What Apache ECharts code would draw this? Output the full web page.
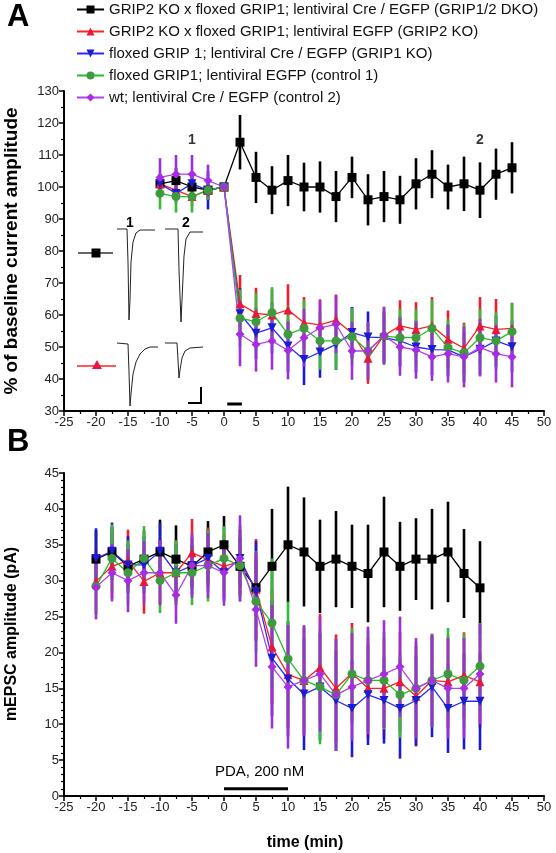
<!DOCTYPE html>
<html><head><meta charset="utf-8">
<script src="https://cdn.jsdelivr.net/npm/echarts@6/dist/echarts.min.js"></script>
<style>html,body{margin:0;padding:0;background:#fff}#c{width:556px;height:853px}</style>
</head><body><div id="c"></div>
<script>
// ---------- DATA ----------
const names = [
  'GRIP2 KO x floxed GRIP1; lentiviral Cre / EGFP (GRIP1/2 DKO)',
  'GRIP2 KO x floxed GRIP1; lentiviral EGFP (GRIP2 KO)',
  'floxed GRIP 1; lentiviral Cre / EGFP (GRIP1 KO)',
  'floxed GRIP1; lentiviral EGFP (control 1)',
  'wt; lentiviral Cre / EGFP (control 2)'
];
// Panel A: % of baseline current amplitude
const timeA = [-10,-7.5,-5,-2.5,0,2.5,5,7.5,10,12.5,15,17.5,20,22.5,25,27.5,30,32.5,35,37.5,40,42.5,45];
const dkoA    = [101,102,100,99,100,114,103,99,102,100,100,97,103,96,97,96,101,104,100,101,99,104,106];
const dkoAerr = [3,4,4,3,0,8.5,8,7.5,8,7.6,8,8,6.5,8,8,7.5,8,7.5,7,8.5,8.7,8,8];
const g2A     = [101,99,97,99,100,63.5,60.5,60,61.6,57.6,56.9,58.4,54.3,46.5,53.6,56.6,55.5,56.6,52.4,49.6,56.6,55.5,55.8];
const g2Aerr  = [3,3,3,3,0,9,8,8,8,8,8,8,8,8,8,8,8.5,9,9,8,9,9.5,8];
const g1A     = [101,98,101,99,100,60.4,54.3,56,50.3,46.1,48.4,50.8,54.5,53.1,52.9,51.9,50,49.2,49.1,46.9,49.3,51.9,50.1];
const g1Aerr  = [3,3,3,6,0,8,8,8,8,8,8,8,8,8,8,8,8,8,8,8,8,8,8];
const c1A     = [98,97,97,99,100,59,57.9,60.7,54,55.8,51.9,51.9,53.2,48.75,53.4,52.9,52.9,55.8,49.8,48.2,52.9,51.9,54.8];
const c1Aerr  = [5,5,5,3,0,9,9,8,9,9,9,9,9,9,9,9,9,9,9,9,9,9,9];
const c2A     = [103,104,104,102,100,54,50.8,51.9,48.9,52.9,56,57.1,48.75,48.75,53.6,50,49.1,46.9,47.9,46.9,49.8,47.9,46.9];
const c2Aerr  = [6,6,6,5,0,10,8.5,9,9,9,8.5,9,9,9,9,9,9,7.5,9,9.5,9,9,9.5];
const pdaBarA = [[0.5,32.2],[2.8,32.2]];
const marksA  = [[-5,114.5,'1'],[40,114.5,'2']];

// Panel B: mEPSC amplitude (pA)
const timeB = [-20,-17.5,-15,-12.5,-10,-7.5,-5,-2.5,0,2.5,5,7.5,10,12.5,15,17.5,20,22.5,25,27.5,30,32.5,35,37.5,40];
const dkoB    = [33,34,32,33,34,33,32,34,35,32,29,32,35,34,32,33,32,31,34,32,33,33,34,31,29];
const dkoBerr = [4,3.5,3,4,4.5,4.7,3,4.3,4,4,4,8,8.1,7.6,6.5,6.7,5.8,6.8,7.7,6.2,5.7,7,7,6.2,6.5];
const g2B     = [29.9,32,32.8,29.9,31.1,31.1,33.9,32.9,32,32.7,28.8,20.8,16.9,16.1,17.9,15,17.1,15,15,15.9,13.9,16.1,15.9,16.8,15.9];
const g2Berr  = [4.5,4.5,4.3,4.5,4.5,4.5,4.7,4.5,4.5,5,7,8,7.5,7.5,7.5,7.5,7,7,7,7,7,6.5,6.5,6,6.5];
const g1B     = [33.1,34.1,32.2,32.2,34.1,31.1,32.1,33.1,31.1,33.1,28.5,19.2,16.3,14.2,15.2,13.3,12.2,14.1,13.3,12.2,13.3,15.2,12.2,13.2,13.2];
const g1Berr  = [4.2,4,4,4,4,4,4,4,4,4,7,8,8,7.8,7.5,7,6.8,7,6,7,6.3,7,6.2,6.7,6.8];
const c1B     = [29.2,33.1,31.1,33.1,30,31.1,31.1,32.1,33.1,32.1,27.1,24.1,19.1,16.1,15.2,14.1,17,16.1,16.1,14.1,15,16.1,17,16.1,18.1];
const c1Berr  = [4,4.7,4.5,4.5,4.5,4.5,4.5,5,4.5,5,7,9,8,7.5,8,7.8,6.4,7,6.8,6,6.5,6.5,6.4,6.5,6];
const c2B     = [29.1,31.1,30,31.1,31.1,28,32.1,32.1,31.1,33.1,26,18,15.2,16.1,17,14.1,15.2,16.1,17,18,15,16.1,15,15,17];
const c2Berr  = [4.5,4,4.4,4.4,4.5,4,4.5,4.5,4.6,6,8,8.6,8.6,7.7,8,7.8,7.5,7.5,7.5,7,7,6.4,7,7,7];
const pdaBarB = [[0,1],[10,1]];

// ---------- STYLE ----------
const groups = [
  {name:names[0], line:'#000000', mark:'#000000', err:'#000000', symbol:'rect', size:9, rot:0},
  {name:names[1], line:'#ff2020', mark:'#e8173d', err:'#ee1c2c', symbol:'triangle', size:9, rot:0},
  {name:names[2], line:'#2a2aff', mark:'#1c1cd0', err:'#1a1ad0', symbol:'triangle', size:9, rot:180},
  {name:names[3], line:'#22c022', mark:'#3f9a3f', err:'#33bb33', symbol:'circle', size:9, rot:0},
  {name:names[4], line:'#b040f0', mark:'#a62ee0', err:'#9b30d8', symbol:'diamond', size:9, rot:0}
];
const panelA = [[dkoA,dkoAerr],[g2A,g2Aerr],[g1A,g1Aerr],[c1A,c1Aerr],[c2A,c2Aerr]];
const panelB = [[dkoB,dkoBerr],[g2B,g2Berr],[g1B,g1Berr],[c1B,c1Berr],[c2B,c2Berr]];

const font = 'Liberation Sans, Arial, sans-serif';
function axis(extra, minorSplit){
  return Object.assign({
    type:'value',
    axisLine:{onZero:false,lineStyle:{color:'#000',width:2}},
    axisTick:{show:true,length:5,lineStyle:{color:'#000',width:1.5}},
    minorTick:{show:true,splitNumber:minorSplit,length:3,lineStyle:{color:'#000',width:1.2}},
    axisLabel:{color:'#222',fontSize:13,fontFamily:font,margin:5},
    splitLine:{show:false}, minorSplitLine:{show:false}
  }, extra);
}

const series = [];
function addPanel(gi, xs, panel){
  panel.forEach((p,k)=>{
    const g = groups[k];
    series.push({
      type:'custom', name:g.name+' err', xAxisIndex:gi, yAxisIndex:gi, z:2,
      data: xs.map((x,i)=>[x,p[0][i],p[1][i]]),
      encode:{x:0,y:1},
      renderItem:(params,api)=>{
        const x=api.value(0), y=api.value(1), e=api.value(2);
        const a=api.coord([x,y-e]), b=api.coord([x,y+e]);
        return {type:'line',shape:{x1:a[0],y1:a[1],x2:b[0],y2:b[1]},style:{stroke:g.err,lineWidth:2.6}};
      }
    });
  });
  panel.forEach((p,k)=>{
    const g = groups[k];
    series.push({
      type:'line', name:g.name, xAxisIndex:gi, yAxisIndex:gi, z:3,
      data: xs.map((x,i)=>[x,p[0][i]]),
      symbol:g.symbol, symbolSize:g.size, symbolRotate:g.rot, showAllSymbol:true,
      lineStyle:{color:g.line,width:1.3}, itemStyle:{color:g.mark}
    });
  });
}
addPanel(0, timeA, panelA);
addPanel(1, timeB, panelB);
series.push({type:'line',name:'pdaA',xAxisIndex:0,yAxisIndex:0,data:pdaBarA,symbol:'none',lineStyle:{color:'#000',width:3},z:4});
series.push({type:'line',name:'pdaB',xAxisIndex:1,yAxisIndex:1,data:pdaBarB,symbol:'none',lineStyle:{color:'#000',width:3},z:4});
series.push({type:'scatter',name:'marks',xAxisIndex:0,yAxisIndex:0,data:marksA,symbolSize:0,
  label:{show:true,position:'inside',formatter:p=>p.value[2],fontSize:14,fontWeight:'bold',color:'#000',fontFamily:font}});

// inset sample traces (decoration)
const tr = (pts)=>({type:'polyline',shape:{points:pts},style:{stroke:'#222',lineWidth:1,fill:null},z:10});
const graphic = [
  {type:'text',left:7,top:2,style:{text:'A',font:'bold 31px '+font,fill:'#000'}},
  {type:'text',left:7,top:427,style:{text:'B',font:'bold 31px '+font,fill:'#000'}},
  {type:'text',x:12,y:251,rotation:Math.PI/2,style:{text:'% of baseline current amplitude',font:'bold 19px '+font,fill:'#000',align:'center',verticalAlign:'middle'}},
  {type:'text',x:12,y:634,rotation:Math.PI/2,style:{text:'mEPSC amplitude (pA)',font:'bold 16px '+font,fill:'#000',align:'center',verticalAlign:'middle'}},
  {type:'text',x:305,y:843,style:{text:'time (min)',font:'bold 16px '+font,fill:'#000',align:'center',verticalAlign:'middle'}},
  {type:'text',x:215,y:772,style:{text:'PDA, 200 nM',font:'15px '+font,fill:'#000',align:'left',verticalAlign:'middle'}},
  tr([[117,229],[127,229],[128,262],[129,320],[130,300],[131,262],[133,242],[136,233],[140,230],[155,230]]),
  tr([[165,229],[178,229],[179,270],[181,322],[182,300],[184,256],[186,239],[190,232],[203,232]]),
  tr([[117,343],[128,344],[129,372],[130,406],[131,394],[133,374],[136,362],[140,354],[145,349],[150,347],[158,347]]),
  tr([[165,343],[177,343],[178,360],[179,378],[180,370],[182,358],[185,351],[190,348],[203,347]]),
  {type:'polyline',shape:{points:[[188,403],[201,403],[201,387]]},style:{stroke:'#000',lineWidth:2,fill:null}},
  {type:'text',x:130,y:223,style:{text:'1',font:'bold 14px '+font,fill:'#000',align:'center',verticalAlign:'middle'}},
  {type:'text',x:186,y:223,style:{text:'2',font:'bold 14px '+font,fill:'#000',align:'center',verticalAlign:'middle'}},
  {type:'line',shape:{x1:78,y1:253,x2:113,y2:253},style:{stroke:'#333',lineWidth:1.3}},
  {type:'rect',shape:{x:91.5,y:248.5,width:9,height:9},style:{fill:'#000'}},
  {type:'line',shape:{x1:77,y1:366,x2:116,y2:366},style:{stroke:'#ff2020',lineWidth:1.3}},
  {type:'polygon',shape:{points:[[97,360],[102,369],[92,369]]},style:{fill:'#e8173d'}}
];

const option = {
  animation:false,
  backgroundColor:'#fff',
  legend:{data:names,orient:'vertical',left:76,top:2,padding:0,itemWidth:27,itemHeight:10,itemGap:7,
    textStyle:{fontSize:15,fontFamily:font,color:'#111'},selectedMode:false},
  grid:[{left:64,top:91,width:480,height:320},{left:64,top:473,width:480,height:323}],
  xAxis:[axis({gridIndex:0,min:-25,max:50,interval:5},2),axis({gridIndex:1,min:-25,max:50,interval:5},2)],
  yAxis:[axis({gridIndex:0,min:30,max:130,interval:10},2),axis({gridIndex:1,min:0,max:45,interval:5},5)],
  graphic:graphic,
  series:series
};
const chart = echarts.init(document.getElementById('c'),null,{renderer:'canvas'});
chart.setOption(option);
</script></body></html>
